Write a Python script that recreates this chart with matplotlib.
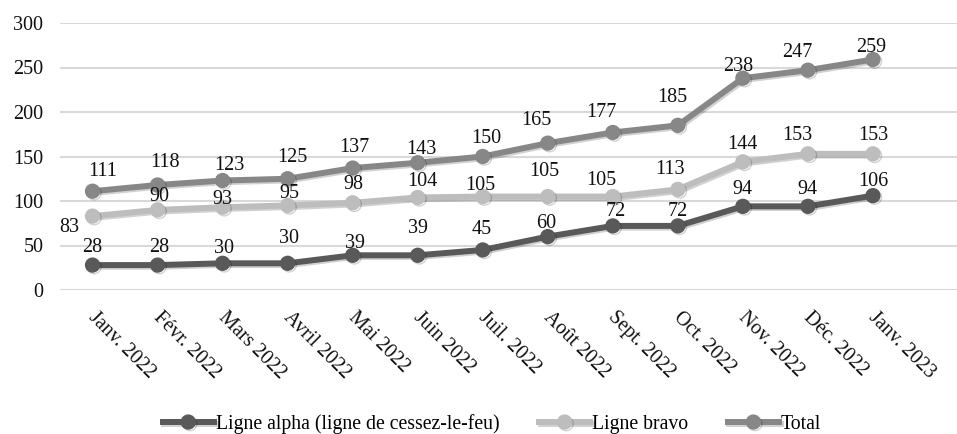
""" Evolution of the alpha / bravo lines, Jan 2022 - Jan 2023 """

import numpy as np
import matplotlib.pyplot as plt
import matplotlib.patheffects as pe
import matplotlib.transforms as mtrans


# -------------------------------------------------------------------------------
# 1. DATA
# -------------------------------------------------------------------------------

months = ['Janv. 2022', 'Févr. 2022', 'Mars 2022', 'Avril 2022', 'Mai 2022',
          'Juin 2022', 'Juil. 2022', 'Août 2022', 'Sept. 2022', 'Oct. 2022',
          'Nov. 2022', 'Déc. 2022', 'Janv. 2023']

alpha = [28, 28, 30, 30, 39, 39, 45, 60, 72, 72, 94, 94, 106]
bravo = [83, 90, 93, 95, 98, 104, 105, 105, 105, 113, 144, 153, 153]
total = [111, 118, 123, 125, 137, 143, 150, 165, 177, 185, 238, 247, 259]

names = ['Ligne alpha (ligne de cessez-le-feu)', 'Ligne bravo', 'Total']


# label offsets in pixels (dx, dy), as placed in the original chart
off_alpha = [(0, 18), (2, 18), (1, 15), (1, 25), (2, 12), (0, 27), (-1, 20),
             (-2, 13), (3, 14), (0, 14), (0, 17), (0, 17), (0, 14)]
off_bravo = [(-23, -11), (2, 13), (0, 8), (2, 12), (1, 18), (5, 16), (-2, 11),
             (-3, 25), (-12, 16), (-8, 20), (0, 17), (-11, 18), (0, 18)]
off_total = [(10, 20), (7, 22), (7, 15), (5, 21), (2, 21), (4, 13), (4, 18),
             (-11, 23), (-11, 20), (-6, 28), (-5, 12), (-11, 18), (-2, 12)]


# -------------------------------------------------------------------------------
# 2. PLOT
# -------------------------------------------------------------------------------

plt.rcParams['font.family'] = ['Liberation Serif', 'DejaVu Serif']

fig = plt.figure(figsize=(9.57, 4.34), dpi=100)
ax = fig.add_axes([60 / 957, 1 - 290 / 434, 1 - 60 / 957, 267 / 434])

x = np.arange(len(months))
colors = ['#595959', '#bdbdbd', '#878787']
shadow = [pe.SimpleLineShadow(offset=(1.2, -1.2), shadow_color='k', alpha=0.18), pe.Normal()]

for vals, offs, name, col in zip([alpha, bravo, total], [off_alpha, off_bravo, off_total], names, colors):
    ax.plot(x, vals, color=col, lw=4.3, marker='o', ms=10, label=name,
            path_effects=shadow, zorder=3)
    for xi, v, (dx, dy) in zip(x, vals, offs):
        ax.annotate(str(v), (xi, v), xytext=(dx, dy), textcoords='offset pixels',
                    ha='center', va='center', fontsize=14.5, color='#111111', zorder=4)

ax.set_ylim(0, 300)
ax.set_xlim(-0.5, 12 + (957 - 873) / 65)
ax.set_yticks(range(0, 301, 50))
ax.yaxis.grid(True, color='#d9d9d9', lw=1.5)
ax.set_axisbelow(True)
for s in ax.spines.values():
    s.set_visible(False)

ax.tick_params(axis='y', length=0, pad=12, labelsize=14.5, labelcolor='#111111')
ax.tick_params(axis='x', length=0, pad=13, labelsize=14.5, labelcolor='#111111')
ax.set_xticks(x)
ax.set_xticklabels(months, rotation=-45, ha='left', va='top', rotation_mode='anchor')

# nudge the slanted month labels a few pixels to the right
nudge = mtrans.ScaledTranslation(5 / 100, 0, fig.dpi_scale_trans)
for lbl in ax.get_xticklabels():
    lbl.set_transform(lbl.get_transform() + nudge)

fig.legend(loc='center', bbox_to_anchor=(492 / 957, 1 - 424 / 434), ncol=3,
           frameon=False, fontsize=14.2, handlelength=2.6, handletextpad=0.1,
           columnspacing=2.0)

plt.savefig('out.png', dpi=100)
